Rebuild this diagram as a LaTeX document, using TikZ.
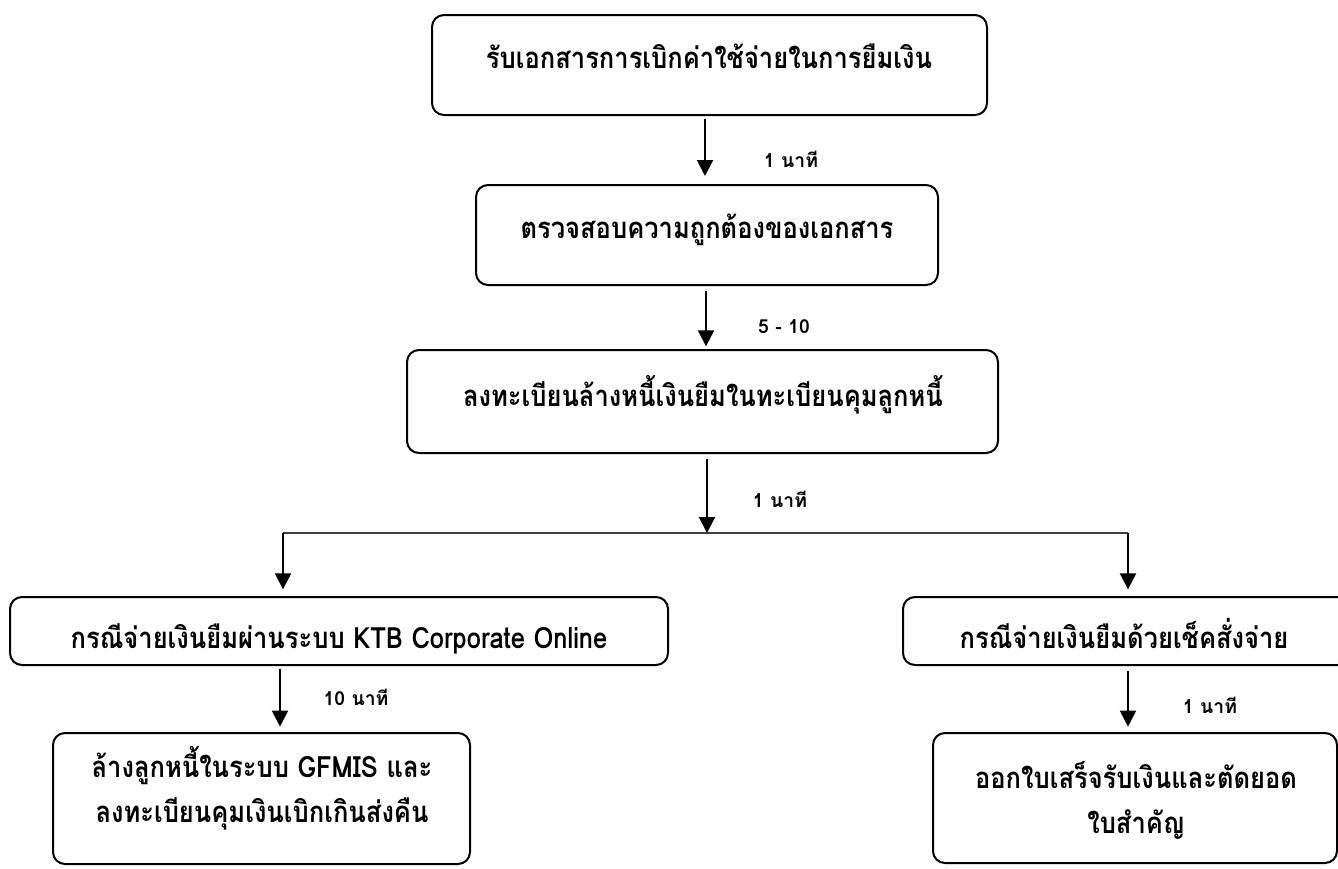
\documentclass[tikz,border=0pt]{standalone}
\usepackage{fontspec}
\newfontfamily\thaifont[Script=Thai]{Loma}
\newfontfamily\thainarrow[Script=Thai,FakeStretch=0.87]{Loma}
\usetikzlibrary{arrows.meta}

\begin{document}
\begin{tikzpicture}[x=0.75pt,y=-0.75pt,
		box/.style={draw, line width=1.5pt, rounded corners=9pt, inner sep=0pt},
		boxtext/.style={anchor=base, align=center, font=\thainarrow\bfseries\fontsize{22}{33.75}\selectfont},
		timetext/.style={anchor=base, font=\thaifont\bfseries\fontsize{14.5}{16}\selectfont},
		flow/.style={line width=1.5pt, -{Triangle[width=12pt,length=12pt]}}]
		\useasboundingbox (0,0) rectangle (1338,868);

		%% Main column
		\node[box, minimum width=416.25pt, minimum height=75pt] at (709.5,65)(receive){};
		\node[boxtext] at (709,68)(receivetxt){รับเอกสารการเบิกค่าใช้จ่ายในการยืมเงิน};

		\node[box, minimum width=346.5pt, minimum height=75pt] at (707,235)(check){};
		\node[boxtext] at (707,238)(checktxt){ตรวจสอบความถูกต้องของเอกสาร};

		\node[box, minimum width=443.25pt, minimum height=77.25pt] at (702.5,401.5)(register){};
		\node[boxtext] at (703,406)(registertxt){ลงทะเบียนล้างหนี้เงินยืมในทะเบียนคุมลูกหนี้};

		\node[timetext] at (791,167)(t1){1 นาที};
		\node[timetext] at (784,333)(t2){5 - 10};
		\node[timetext] at (780,507)(t3){1 นาที};

		\coordinate (split) at (707,533);
		\draw[flow, shorten <=2pt, shorten >=6pt] (receive.south -| 705,0) -- (check.north -| 705,0);
		\draw[flow, shorten <=4pt, shorten >=2pt] (check.south -| 706,0) -- (register.north -| 706,0);

		%% Split
		\coordinate (splitL) at (283,533);
		\coordinate (splitR) at (1128,533);
		\draw[line width=0.9pt, black!75] (splitL) -- (splitR);
		\draw[flow, shorten <=4pt] (register.south -| split) -- (split);

		%% Left branch
		\node[box, minimum width=493.5pt, minimum height=51pt] at (339,631)(ktb){};
		\node[boxtext] at (339,648)(ktbtxt){กรณีจ่ายเงินยืมผ่านระบบ KTB Corporate Online};

		\node[box, minimum width=312.75pt, minimum height=98.25pt] at (261.5,798.5)(gfmis){};
		\node[boxtext] at (262,822)(gfmistxt){ล้างลูกหนี้ในระบบ GFMIS และ\\ลงทะเบียนคุมเงินเบิกเกินส่งคืน};

		\node[timetext] at (356,705)(t4){10 นาที};

		\draw[flow, shorten >=5pt] (splitL) -- (splitL |- ktb.north);
		\draw[flow, shorten <=2pt, shorten >=4pt] (ktb.south -| 280,0) -- (gfmis.north -| 280,0);

		%% Right branch
		\node[box, minimum width=335.25pt, minimum height=51pt] at (1126.5,631)(cheque){};
		\node[boxtext] at (1124,648)(chequetxt){กรณีจ่ายเงินยืมด้วยเช็คสั่งจ่าย};

		\node[box, minimum width=303pt, minimum height=97.5pt] at (1135,798)(receipt){};
		\node[boxtext] at (1136,833)(receipttxt){ออกใบเสร็จรับเงินและตัดยอด\\ใบสำคัญ};

		\node[timetext] at (1210,713)(t5){1 นาที};

		\draw[flow, shorten >=5pt] (splitR) -- (splitR |- cheque.north);
		\draw[flow, shorten <=4pt, shorten >=4pt] (cheque.south -| splitR) -- (receipt.north -| splitR);
\end{tikzpicture}
\end{document}
